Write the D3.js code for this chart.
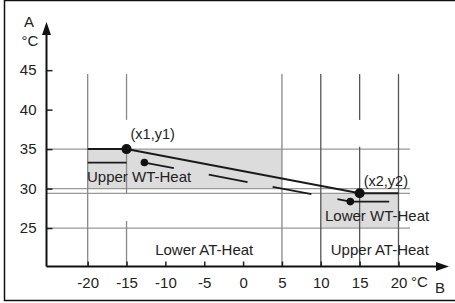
<!DOCTYPE html>
<html>
<head>
<meta charset="utf-8">
<script src="https://cdn.jsdelivr.net/npm/d3@7"></script>
<style>
  body { margin: 0; background: #fff; }
  text { font-family: "Liberation Sans", Arial, sans-serif; fill: #222; }
</style>
</head>
<body>
<div id="chart"></div>
<script>
// values
const xTicks = [-20, -15, -10, -5, 0, 5, 10, 15, 20];
const yTicks = [25, 30, 35, 40, 45];
const upperCurve = [[-20, 35], [-15, 35], [15, 29.4], [20, 29.4]];
const upperPoints = [[-15, 35, "(x1,y1)", 10], [15, 29.4, "(x2,y2)", 7]];
const lowerLeft = [[-20, 33.3], [-15, 33.3]];
const lowerSlope = [[-12.7, 33.3], [13.8, 28.35]];
const lowerRight = [[13.8, 28.35], [18.8, 28.35]];
const hGrid = [35, 30, 29.4, 25];
const vGrid = [
  { x: -20, segs: [[20.1, 44.5]], c: '#888' },
  { x: -15, segs: [[44.5, 38.7], [35, 29.4], [25.9, 20.1]], c: '#888' },
  { x: 5, segs: [[20.1, 44.5]], c: '#888' },
  { x: 10, segs: [[20.1, 44.5]], c: '#555' },
  { x: 15, segs: [[44.5, 38.7], [35.3, 20.1]], c: '#555' },
  { x: 20, segs: [[20.1, 44.5]], c: '#555' }
];
const boxes = [
  { x0: -20, x1: 5, y0: 30, y1: 35, label: "Upper WT-Heat", lx: 87, ly: 30.85 },
  { x0: 10, x1: 20, y0: 25, y1: 29.4, label: "Lower WT-Heat", lx: 325, ly: 25.85 }
];
const zoneLabels = [["Lower AT-Heat", -5], ["Upper AT-Heat", 17.6]];

const W = 455, H = 303;
const svg = d3.select('#chart').append('svg').attr('width', W).attr('height', H);

const x = d3.scaleLinear().domain([-25.3, 26.5]).range([46.5, 449]);
const y = d3.scaleLinear().domain([20.13, 51.1]).range([266.5, 22]);

// frame
svg.append('path')
  .attr('d', `M${W},0.5 H4.5 V300.5 H${W}`)
  .attr('fill', 'none').attr('stroke', '#111').attr('stroke-width', 1.5);

// gray boxes
svg.selectAll('.box').data(boxes).enter().append('rect')
  .attr('x', d => x(d.x0)).attr('y', d => y(d.y1))
  .attr('width', d => x(d.x1) - x(d.x0)).attr('height', d => y(d.y0) - y(d.y1))
  .attr('fill', '#dcdcdc');

// horizontal grid
svg.selectAll('.hg').data(hGrid).enter().append('line')
  .attr('x1', x(-25.3)).attr('x2', 410)
  .attr('y1', d => y(d)).attr('y2', d => y(d))
  .attr('stroke', '#999').attr('stroke-width', 1.3);

// vertical grid
vGrid.forEach(g => {
  g.segs.forEach(s => {
    svg.append('line')
      .attr('x1', x(g.x)).attr('x2', x(g.x))
      .attr('y1', y(s[0])).attr('y2', y(s[1]))
      .attr('stroke', g.c).attr('stroke-width', 1.3);
  });
});

// axes
const xAxis = svg.append('g').attr('transform', `translate(0,${y(20.13)})`)
  .call(d3.axisBottom(x).tickValues(xTicks).tickSize(-5).tickPadding(11).tickFormat(d3.format('d')));
const yAxis = svg.append('g').attr('transform', `translate(${x(-25.3)},0)`)
  .call(d3.axisLeft(y).tickValues(yTicks).tickSize(-6).tickPadding(10));
[xAxis, yAxis].forEach(a => {
  a.select('.domain').remove();
  a.selectAll('.tick line').attr('stroke', '#222').attr('stroke-width', 1.5);
  a.selectAll('.tick text').style('font-size', '15px').attr('fill', '#222')
    .style('font-family', '"Liberation Sans", Arial, sans-serif');
});
xAxis.selectAll('.tick text').text(d => d < 0 ? '-' + Math.abs(d) : d);

svg.append('line').attr('x1', x(-25.3)).attr('x2', x(26.5) - 10)
  .attr('y1', y(20.13)).attr('y2', y(20.13)).attr('stroke', '#111').attr('stroke-width', 2);
svg.append('line').attr('x1', x(-25.3)).attr('x2', x(-25.3))
  .attr('y1', y(20.13)).attr('y2', y(51.1) + 10).attr('stroke', '#111').attr('stroke-width', 2);
svg.append('path')
  .attr('d', `M${x(26.5)},${y(20.13)} l-13,-4.5 v9 z`).attr('fill', '#111');
svg.append('path')
  .attr('d', `M${x(-25.3)},${y(51.1)} l-4.5,13 h9 z`).attr('fill', '#111');

// axis titles
svg.append('text').attr('x', 29).attr('y', 27).attr('text-anchor', 'middle').style('font-size', '15px').text('A');
svg.append('text').attr('x', 30).attr('y', 46).attr('text-anchor', 'middle').style('font-size', '15px').text('°C');
svg.append('text').attr('x', 411).attr('y', 287).style('font-size', '15px').text('°C');
svg.append('text').attr('x', 435).attr('y', 293).style('font-size', '15px').text('B');

const line = d3.line().x(d => x(d[0])).y(d => y(d[1]));

// heating curve (upper)
svg.append('path').datum(upperCurve).attr('d', line)
  .attr('fill', 'none').attr('stroke', '#1a1a1a').attr('stroke-width', 2);

// lower curve
[lowerLeft, lowerRight].forEach(seg => {
  svg.append('path').datum(seg).attr('d', line)
    .attr('fill', 'none').attr('stroke', '#1a1a1a').attr('stroke-width', 1.8);
});
svg.append('path').datum(lowerSlope).attr('d', line)
  .attr('fill', 'none').attr('stroke', '#1a1a1a').attr('stroke-width', 1.8)
  .attr('stroke-dasharray', '30,35.5,39.5,25.5,39.5,26.5,20');

svg.selectAll('.dotL').data([lowerSlope[0], lowerSlope[1]]).enter().append('circle')
  .attr('cx', d => x(d[0])).attr('cy', d => y(d[1])).attr('r', 3.8).attr('fill', '#111');
svg.selectAll('.dotU').data(upperPoints).enter().append('circle')
  .attr('cx', d => x(d[0])).attr('cy', d => y(d[1])).attr('r', 5).attr('fill', '#111');

// labels
svg.selectAll('.ptl').data(upperPoints).enter().append('text')
  .attr('x', d => x(d[0]) + 4).attr('y', d => y(d[1]) - d[3])
  .style('font-size', '14.5px').text(d => d[2]);
svg.selectAll('.bxl').data(boxes).enter().append('text')
  .attr('x', d => d.lx).attr('y', d => y(d.ly))
  .style('font-size', '15px').text(d => d.label);
svg.selectAll('.zl').data(zoneLabels).enter().append('text')
  .attr('x', d => x(d[1])).attr('y', 255).attr('text-anchor', 'middle')
  .style('font-size', '15px').text(d => d[0]);
</script>
</body>
</html>
